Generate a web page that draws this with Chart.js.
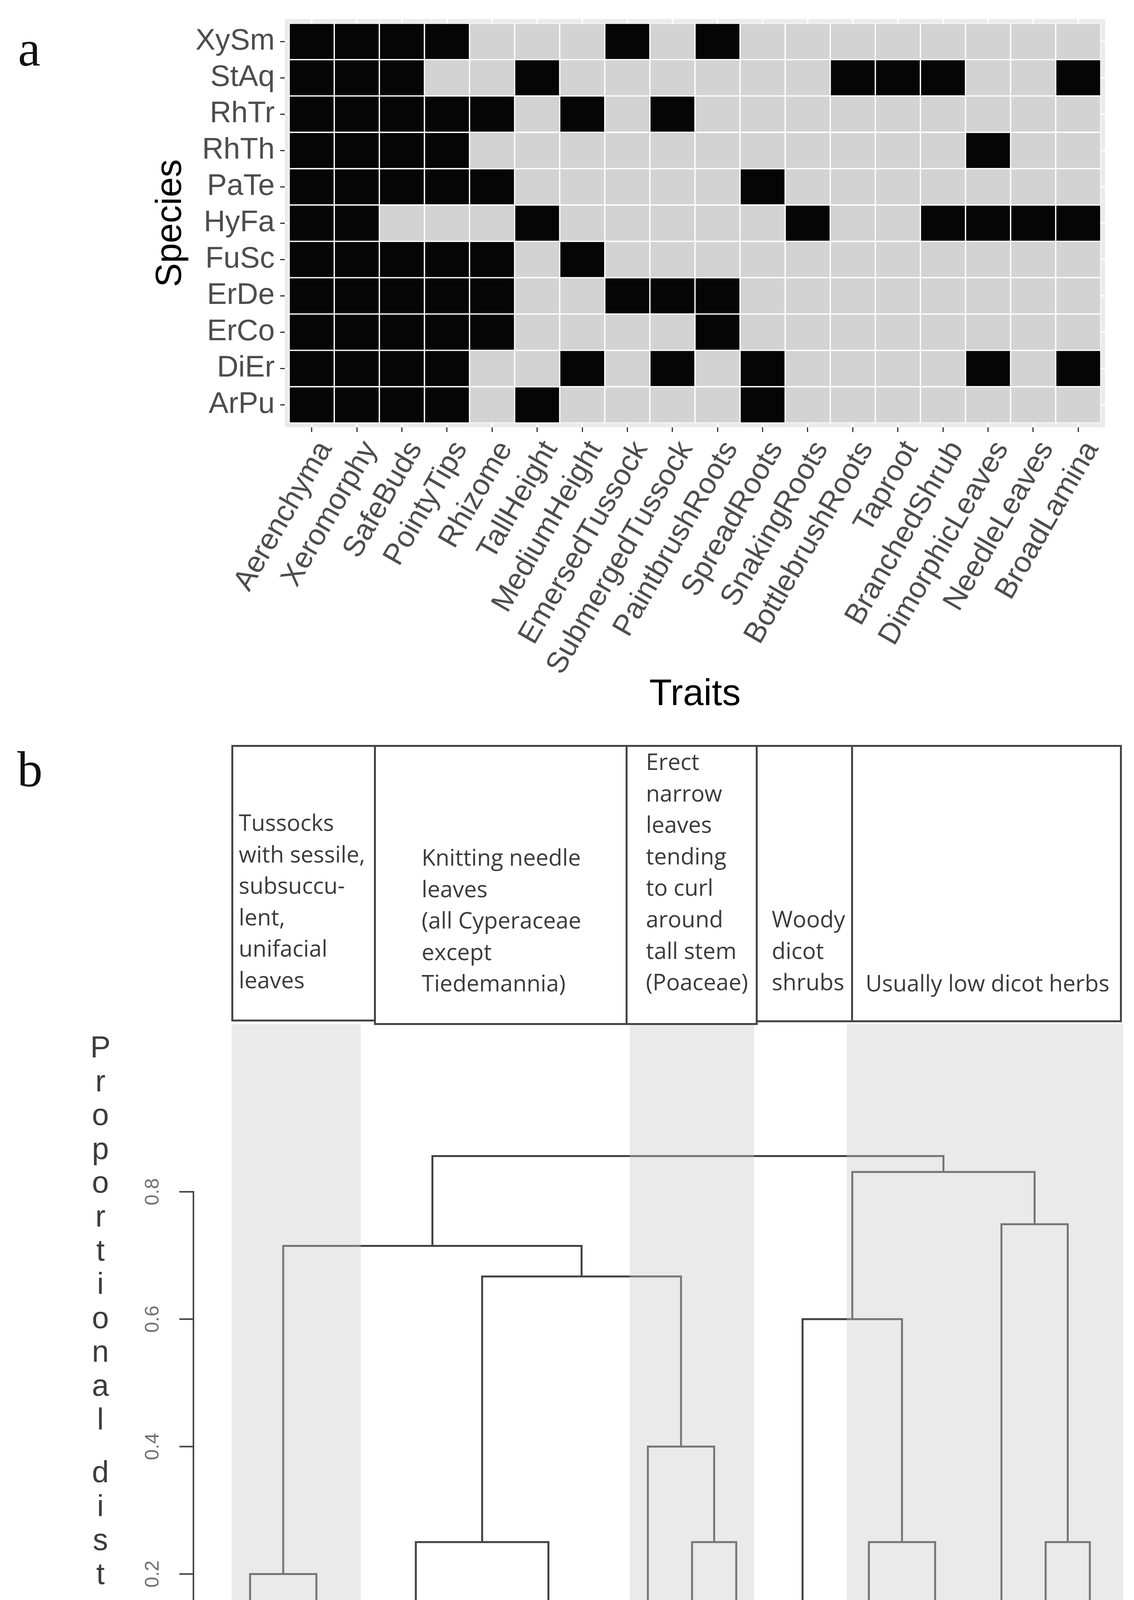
<!DOCTYPE html>
<html>
<head>
<meta charset="utf-8">
<title>Species traits heatmap and dendrogram</title>
<script src="https://cdn.jsdelivr.net/npm/chart.js@4.4.1/dist/chart.umd.min.js"></script>
<style>
 html,body{margin:0;padding:0;background:#fff;}
 #page{position:relative;width:2902px;height:4582px;overflow:hidden;background:#fff;}
 canvas{position:absolute;left:0;}
 #cA{top:0;}
 #cB{top:2600px;}
 .plab{position:absolute;font-family:'Liberation Serif',serif;font-size:130px;line-height:130px;color:#111;}
 .box{position:absolute;border:5px solid #454545;box-sizing:border-box;}
 .btxt{position:absolute;font-family:'Open Sans',sans-serif;font-size:58px;line-height:80.6px;color:#3b3b3b;white-space:nowrap;}
 #ytitle{position:absolute;left:212px;top:2637px;width:90px;font-family:'Liberation Sans',sans-serif;font-size:78px;color:#3c3c3c;text-align:center;}
 #ytitle span{display:block;height:86.6px;line-height:86.6px;}
 #ytitle span.sp{height:49px;}
</style>
</head>
<body>
<div id="page">
 <canvas id="cA" width="2902" height="1850"></canvas>
 <canvas id="cB" width="2902" height="1982"></canvas>
 <div class="plab" style="left:46px;top:59px;">a</div>
 <div class="plab" style="left:44px;top:1904px;">b</div>

 <div class="box" style="left:592px;top:1907px;width:370px;height:708px;"></div>
 <div class="box" style="left:957px;top:1907px;width:649px;height:717px;"></div>
 <div class="box" style="left:1601px;top:1907px;width:338px;height:717px;"></div>
 <div class="box" style="left:1934px;top:1907px;width:249px;height:710px;"></div>
 <div class="box" style="left:2178px;top:1907px;width:693px;height:710px;"></div>

 <div class="btxt" style="left:611px;top:2065px;">Tussocks<br>with sessile,<br>subsuccu-<br>lent,<br>unifacial<br>leaves</div>
 <div class="btxt" style="left:1079px;top:2154px;">Knitting needle<br>leaves<br>(all Cyperaceae<br>except<br>Tiedemannia)</div>
 <div class="btxt" style="left:1653px;top:1909px;">Erect<br>narrow<br>leaves<br>tending<br>to curl<br>around<br>tall stem<br>(Poaceae)</div>
 <div class="btxt" style="left:1975px;top:2312px;">Woody<br>dicot<br>shrubs</div>
 <div class="btxt" style="left:2215px;top:2476px;">Usually low dicot herbs</div>

 <div id="ytitle"></div>
</div>
<script>
// ---------- Panel a data ----------
const species = ['XySm','StAq','RhTr','RhTh','PaTe','HyFa','FuSc','ErDe','ErCo','DiEr','ArPu'];
const traits = ['Aerenchyma','Xeromorphy','SafeBuds','PointyTips','Rhizome','TallHeight','MediumHeight',
  'EmersedTussock','SubmergedTussock','PaintbrushRoots','SpreadRoots','SnakingRoots','BottlebrushRoots',
  'Taproot','BranchedShrub','DimorphicLeaves','NeedleLeaves','BroadLamina'];
const XySm = [1,1,1,1,0,0,0,1,0,1,0,0,0,0,0,0,0,0];
const StAq = [1,1,1,0,0,1,0,0,0,0,0,0,1,1,1,0,0,1];
const RhTr = [1,1,1,1,1,0,1,0,1,0,0,0,0,0,0,0,0,0];
const RhTh = [1,1,1,1,0,0,0,0,0,0,0,0,0,0,0,1,0,0];
const PaTe = [1,1,1,1,1,0,0,0,0,0,1,0,0,0,0,0,0,0];
const HyFa = [1,1,0,0,0,1,0,0,0,0,0,1,0,0,1,1,1,1];
const FuSc = [1,1,1,1,1,0,1,0,0,0,0,0,0,0,0,0,0,0];
const ErDe = [1,1,1,1,1,0,0,1,1,1,0,0,0,0,0,0,0,0];
const ErCo = [1,1,1,1,1,0,0,0,0,1,0,0,0,0,0,0,0,0];
const DiEr = [1,1,1,1,0,0,1,0,1,0,1,0,0,0,0,1,0,1];
const ArPu = [1,1,1,1,0,1,0,0,0,0,1,0,0,0,0,0,0,0];
const traitRows = [XySm,StAq,RhTr,RhTh,PaTe,HyFa,FuSc,ErDe,ErCo,DiEr,ArPu];

// ---------- Panel b data ----------
const leafLabels = ['XySm','ErCo','ErDe','FuSc','RhTr','ScBa','TiFi','RhTh','RhDi','PaTe','DiEr','ArPu',
  'HyFa','StAq','GrRa','LuJu','BaCa','UlPu','CeAs','PrPe'];
// hclust-style merges: negative = leaf (1-based), positive = earlier merge (1-based)
const mergeA = [-2,-5,-4,-8,-7,-13,-16,-1,3,-11,-15,-19,-10,6,9,8,-18,14,16];
const mergeB = [-3,-6,2,-9,4,-14,-17,1,5,-12,7,-20,10,11,13,15,12,17,18];
const mergeHeight = [0,0,0,0,0,0,0,0.2,0.25,0.25,0.25,0.25,0.4,0.6,0.667,0.715,0.749,0.831,0.856];
const distTicks = [0,0.2,0.4,0.6,0.8];
const groupBands = [[-0.42,2.5],[8.59,11.4],[13.5,19.75]];
const yTitleText = 'Proportional distance';

Chart.defaults.font.family = "'Liberation Sans', Arial, sans-serif";

// stacked y title letters
(function(){
  const el = document.getElementById('ytitle');
  for (const ch of yTitleText) {
    const s = document.createElement('span');
    if (ch === ' ') { s.className = 'sp'; s.innerHTML = '&nbsp;'; } else { s.textContent = ch; }
    el.appendChild(s);
  }
})();

// ---------- Panel a: heatmap ----------
const nS = species.length;
const heatSets = species.map((name, r) => {
  const yv = nS - 1 - r;
  return {
    label: name,
    data: traits.map(() => [yv - 0.5, yv + 0.5]),
    backgroundColor: traitRows[r].map(v => v ? '#050505' : '#d3d3d3'),
    borderColor: '#ffffff', borderWidth: 2, borderSkipped: false,
    grouped: false, barPercentage: 1, categoryPercentage: 1
  };
});

const panelBg = {
  id: 'panelBg',
  beforeDatasetsDraw(chart) {
    const {ctx, chartArea: ca, scales: {x, y}} = chart;
    const pad = 11;
    ctx.save();
    ctx.fillStyle = '#ebebeb';
    ctx.fillRect(ca.left - pad, ca.top - pad, ca.width + 2*pad, ca.height + 2*pad);
    ctx.strokeStyle = '#ffffff'; ctx.lineWidth = 4;
    traits.forEach((t, i) => { const px = x.getPixelForValue(i);
      ctx.beginPath(); ctx.moveTo(px, ca.top - pad); ctx.lineTo(px, ca.bottom + pad); ctx.stroke(); });
    species.forEach((s, i) => { const py = y.getPixelForValue(i);
      ctx.beginPath(); ctx.moveTo(ca.left - pad, py); ctx.lineTo(ca.right + pad, py); ctx.stroke(); });
    ctx.restore();
  }
};

new Chart(document.getElementById('cA'), {
  type: 'bar',
  data: { labels: traits, datasets: heatSets },
  options: {
    responsive: false, animation: false, devicePixelRatio: 1,
    layout: { padding: { left: 382, right: 85, top: 32, bottom: 14 } },
    plugins: { legend: { display: false }, tooltip: { enabled: false } },
    scales: {
      x: { type: 'category', offset: true,
        grid: { display: true, drawOnChartArea: false, tickLength: 23, tickColor: '#333333', tickWidth: 3, offset: false },
        border: { display: false },
        ticks: { minRotation: 60, maxRotation: 60, autoSkip: false, labelOffset: 35, padding: 8, font: { size: 76 }, color: '#4d4d4d' },
        title: { display: true, text: 'Traits', font: { size: 95 }, color: '#000000', padding: { top: 3, bottom: 0 } },
        afterFit(s) { s.height = 753; } },
      y: { type: 'linear', min: -0.5, max: nS - 0.5,
        afterBuildTicks(s) { s.ticks = species.map((n, i) => ({ value: i })); },
        grid: { display: true, drawOnChartArea: false, tickLength: 23, tickColor: '#333333', tickWidth: 3 },
        border: { display: false },
        ticks: { autoSkip: false, padding: 14, font: { size: 76 }, color: '#4d4d4d', callback: (v) => species[nS - 1 - Math.round(v)] },
        title: { display: true, text: 'Species', font: { size: 92 }, color: '#000000', padding: { top: 0, bottom: 0 } },
        afterFit(s) { s.width = 740 - 382; } }
    }
  },
  plugins: [panelBg]
});

// ---------- Panel b: dendrogram ----------
const nodeX = [], nodeH = [];
function childPos(c) { return c < 0 ? { x: -c - 1, h: 0 } : { x: nodeX[c - 1], h: nodeH[c - 1] }; }
const dendroSets = mergeA.map((a, k) => {
  const ca = childPos(a), cb = childPos(mergeB[k]), h = mergeHeight[k];
  nodeX[k] = (ca.x + cb.x) / 2; nodeH[k] = h;
  return { data: [{ x: ca.x, y: ca.h }, { x: ca.x, y: h }, { x: cb.x, y: h }, { x: cb.x, y: cb.h }],
    borderColor: '#424242', borderWidth: 5, pointRadius: 0, tension: 0, fill: false,
    borderJoinStyle: 'miter', borderCapStyle: 'butt', clip: false };
});

const dendroDeco = {
  id: 'dendroDeco',
  afterDatasetsDraw(chart) {
    const {ctx, chartArea: ca, scales: {x}} = chart;
    ctx.save(); ctx.fillStyle = 'rgba(200,201,203,0.385)';
    groupBands.forEach(([a, b]) => { const xa = x.getPixelForValue(a), xb = x.getPixelForValue(b);
      ctx.fillRect(xa, ca.top, xb - xa, ca.bottom + 175 - ca.top); });
    ctx.restore();
  },
  afterDraw(chart) {
    const {ctx, chartArea: ca, scales: {y}} = chart;
    const x0 = ca.left;
    ctx.save(); ctx.strokeStyle = '#454545'; ctx.lineWidth = 4;
    ctx.beginPath(); ctx.moveTo(x0, y.getPixelForValue(distTicks[0]) + 2);
    ctx.lineTo(x0, y.getPixelForValue(distTicks[distTicks.length - 1]) - 2); ctx.stroke();
    y.ticks.forEach(t => { const py = y.getPixelForValue(t.value);
      ctx.beginPath(); ctx.moveTo(x0 - 36, py); ctx.lineTo(x0, py); ctx.stroke();
      ctx.save(); ctx.translate(392, py); ctx.rotate(-Math.PI / 2);
      ctx.fillStyle = '#707070'; ctx.font = "50px 'Liberation Sans'"; ctx.textAlign = 'center'; ctx.textBaseline = 'middle';
      ctx.fillText(Number(t.value).toFixed(1), 0, 0); ctx.restore(); });
    ctx.restore();
  }
};

new Chart(document.getElementById('cB'), {
  type: 'line',
  data: { datasets: dendroSets },
  options: {
    responsive: false, animation: false, devicePixelRatio: 1,
    layout: { padding: { left: 0, right: 12, top: 22, bottom: 0 } },
    plugins: { legend: { display: false }, tooltip: { enabled: false } },
    scales: {
      x: { type: 'linear', min: -1.282, max: 19.893,
        afterBuildTicks(s) { s.ticks = leafLabels.map((n, i) => ({ value: i })); },
        grid: { display: false }, border: { display: false },
        ticks: { minRotation: 90, maxRotation: 90, autoSkip: false, padding: 7, font: { size: 55 }, color: '#555555',
                 callback: (v) => leafLabels[Math.round(v)] },
        afterFit(s) { s.height = 202; } },
      y: { type: 'linear', min: -0.015, max: 1.063,
        afterBuildTicks(s) { s.ticks = distTicks.map(v => ({ value: v })); },
        grid: { display: false }, border: { display: false }, ticks: { display: false },
        afterFit(s) { s.width = 495; } }
    }
  },
  plugins: [dendroDeco]
});
</script>
</body>
</html>
